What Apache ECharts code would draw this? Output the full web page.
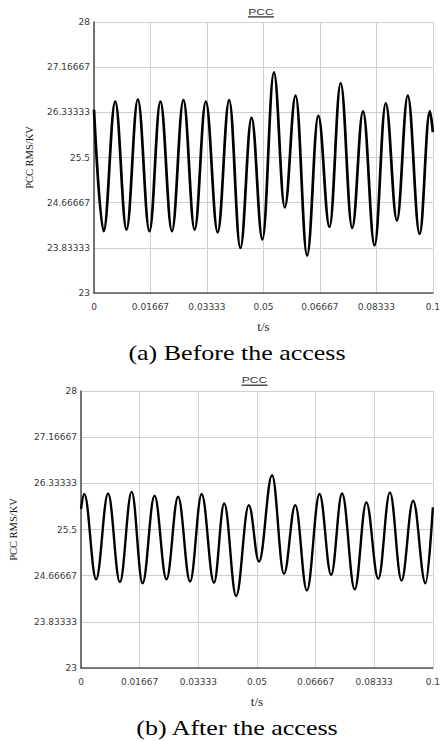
<!DOCTYPE html>
<html><head><meta charset="utf-8">
<script src="https://cdn.jsdelivr.net/npm/echarts@6/dist/echarts.min.js"></script>
<style>html,body{margin:0;padding:0;background:#fff}#c{width:443px;height:741px}</style>
</head><body><div id="c"></div>
<script>
// ---- texts / tick labels ----
const xTickLabels = ['0', '0.01667', '0.03333', '0.05', '0.06667', '0.08333', '0.1'];
const yTickLabels = ['23', '23.83333', '24.66667', '25.5', '26.33333', '27.16667', '28'];
const captions = ['(a) Before the access', '(b) After the access'];
const panelTitle = 'PCC';
const yName = 'PCC RMS/KV';
const xName = 't/s';

// ---- (a) Before the access: time (s) and PCC RMS (kV) at start, extrema, end ----
const timeA = [0, 0.00284, 0.00627, 0.0096, 0.01294, 0.01637, 0.0196, 0.0230, 0.0264, 0.0297,
  0.0330, 0.0365, 0.0399, 0.0432, 0.0465, 0.0497, 0.0531, 0.0563, 0.0595, 0.0629,
  0.0662, 0.0695, 0.0728, 0.0762, 0.0794, 0.0828, 0.0861, 0.0894, 0.0926, 0.0961,
  0.0991, 0.1];
const voltA = [26.38, 24.14, 26.53, 24.17, 26.57, 24.14, 26.53, 24.14, 26.56, 24.17,
  26.53, 24.12, 26.56, 23.83, 26.23, 23.99, 27.07, 24.58, 26.64, 23.69,
  26.27, 24.22, 26.87, 24.20, 26.35, 23.88, 26.50, 24.34, 26.64, 24.09,
  26.35, 25.97];

// ---- (b) After the access ----
const timeB = [0, 0.00094, 0.0043, 0.0077, 0.01105, 0.0144, 0.0175, 0.0209, 0.0243, 0.0276,
  0.0310, 0.0343, 0.0378, 0.0407, 0.0441, 0.0477, 0.0506, 0.0543, 0.0577, 0.0609,
  0.0642, 0.0678, 0.0711, 0.0742, 0.0778, 0.0811, 0.0845, 0.0878, 0.0911, 0.0944,
  0.0979, 0.1];
const voltB = [25.87, 26.14, 24.60, 26.15, 24.55, 26.18, 24.53, 26.11, 24.60, 26.09,
  24.56, 26.14, 24.54, 25.97, 24.30, 25.94, 24.92, 26.48, 24.70, 25.94,
  24.40, 26.14, 24.68, 26.15, 24.42, 25.99, 24.61, 26.17, 24.58, 26.02,
  24.53, 25.90];

const xMin = 0, xMax = 0.1, xInterval = 0.1 / 6;
const yMin = 23, yMax = 28, yInterval = 5 / 6;

function pair(ts, vs) { return ts.map((t, i) => [t, vs[i]]); }

const chart = echarts.init(document.getElementById('c'), null, { renderer: 'svg' });

const labelFont = { fontFamily: 'DejaVu Sans', fontSize: 9, color: '#3a3a3a' };
function xAxisOf(gi) {
  return {
    type: 'value', gridIndex: gi, min: xMin, max: xMax, interval: xInterval,
    name: xName, nameLocation: 'middle', nameGap: 27,
    nameTextStyle: { fontFamily: 'Liberation Serif', fontSize: 13, color: '#1c2438' },
    axisLine: { show: true, onZero: false, lineStyle: { color: '#555', width: 1.6 } },
    axisTick: { show: false },
    axisLabel: Object.assign({ margin: 9, showMinLabel: true, showMaxLabel: true,
      formatter: v => xTickLabels[Math.round((v - xMin) / xInterval)] }, labelFont),
    splitLine: { show: true, lineStyle: { color: '#cfcfcf', width: 1 } }
  };
}
function yAxisOf(gi, gap) {
  return {
    type: 'value', gridIndex: gi, min: yMin, max: yMax, interval: yInterval,
    name: yName, nameLocation: 'middle', nameRotate: 90, nameGap: gap,
    nameTextStyle: { fontFamily: 'Liberation Serif', fontSize: 10.5, color: '#111' },
    axisLine: { show: true, onZero: false, lineStyle: { color: '#555', width: 1.6 } },
    axisTick: { show: false },
    axisLabel: Object.assign({ margin: 4, showMinLabel: true, showMaxLabel: true,
      formatter: v => yTickLabels[Math.round((v - yMin) / yInterval)] }, labelFont),
    splitLine: { show: true, lineStyle: { color: '#cfcfcf', width: 1 } }
  };
}
function seriesOf(i, data, w) {
  return {
    type: 'line', xAxisIndex: i, yAxisIndex: i, data: data,
    showSymbol: false, smooth: 0.38, smoothMonotone: 'x',
    lineStyle: { color: '#000', width: w }, silent: true
  };
}
function titleGraphic(cx, cy) {
  return [
    { type: 'text', x: cx, y: cy, scaleX: 1.3, style: { text: panelTitle, fontFamily: 'Liberation Sans',
      fontSize: 9.3, fill: '#333', align: 'center', verticalAlign: 'middle' } },
    { type: 'line', shape: { x1: cx - 13, y1: cy + 5.2, x2: cx + 13, y2: cy + 5.2 },
      style: { stroke: '#333', lineWidth: 1.3 } }
  ];
}
function captionGraphic(text, cx, cy) {
  return { type: 'text', x: cx, y: cy, scaleX: 1.3, style: { text: text, fontFamily: 'Liberation Serif',
    fontSize: 20, fill: '#000', align: 'center', verticalAlign: 'middle' } };
}

chart.setOption({
  animation: false,
  backgroundColor: '#fff',
  grid: [
    { left: 94, top: 22, width: 344, height: 271 },
    { left: 81, top: 391, width: 356, height: 277 }
  ],
  xAxis: [xAxisOf(0), xAxisOf(1)],
  yAxis: [yAxisOf(0, 59), yAxisOf(1, 62)],
  series: [seriesOf(0, pair(timeA, voltA), 2.7), seriesOf(1, pair(timeB, voltB), 2.4)],
  graphic: [].concat(
    titleGraphic(261, 11.7),
    titleGraphic(254.5, 380),
    [captionGraphic(captions[0], 237, 353.6), captionGraphic(captions[1], 237, 728)]
  )
});
</script></body></html>
